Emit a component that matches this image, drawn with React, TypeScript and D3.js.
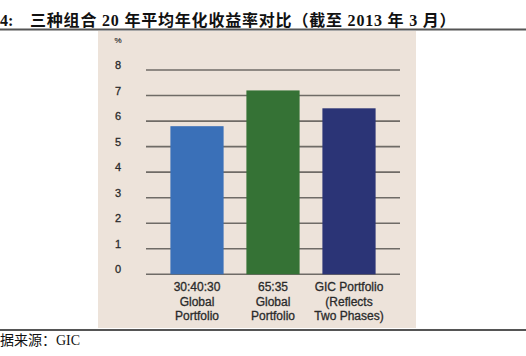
import React from "react";
import * as d3 from "d3";

const categories: string[][] = [
  ["30:40:30", "Global", "Portfolio"],
  ["65:35", "Global", "Portfolio"],
  ["GIC Portfolio", "(Reflects", "Two Phases)"],
];
const values: number[] = [5.8, 7.2, 6.5];
const barColors: string[] = ["#3a70b8", "#357235", "#2b3476"];
const yTicks: number[] = [0, 1, 2, 3, 4, 5, 6, 7, 8];
const titleNum = "4:";
const title = "三种组合 20 年平均年化收益率对比（截至 2013 年 3 月）";
const source = "据来源：GIC";

export default function App() {
  const W = 526, H = 356;
  const y = d3.scaleLinear().domain([0, 8]).range([274.3, 70]);
  const x = d3
    .scaleBand<number>()
    .domain(categories.map((_, i) => i))
    .range([159, 387])
    .paddingInner(0.3)
    .paddingOuter(0.15);
  const gridX0 = 146, gridX1 = 400;
  const sans = "'Liberation Sans', Arial, sans-serif";
  const serif = "'Liberation Serif', 'Times New Roman', 'Noto Sans CJK SC', serif";
  return (
    <svg width={W} height={H} style={{ position: "absolute", left: 0, top: 0, background: "#fff" }}>
      <text x={0} y={26} fontFamily={serif} fontWeight="bold" fontSize={16} fill="#111">
        {titleNum}
      </text>
      <text x={30} y={26} fontFamily={serif} fontWeight="bold" fontSize={16} fill="#111" letterSpacing={0.8}>
        {title}
      </text>
      <line x1={0} x2={W} y1={29.5} y2={29.5} stroke="#555" strokeWidth={2} />
      <rect x={98} y={31} width={318} height={297} fill="#ede3da" />
      {yTicks.map((t) => (
        <g key={t}>
          <line x1={gridX0} x2={gridX1} y1={y(t)} y2={y(t)} stroke="#6f6b66" strokeWidth={1.6} />
          <text x={118} y={y(t) - 1} textAnchor="middle" fontFamily={sans} fontSize={11} fill="#2a2a2a" stroke="#2a2a2a" strokeWidth={0.3}>
            {t}
          </text>
        </g>
      ))}
      <text x={118} y={43} textAnchor="middle" fontFamily={sans} fontSize={8} fill="#333" stroke="#333" strokeWidth={0.2}>%</text>
      {values.map((v, i) => (
        <rect key={i} x={x(i)} y={y(v)} width={x.bandwidth()} height={y(0) - y(v)} fill={barColors[i]} />
      ))}
      {categories.map((lines, i) => (
        <text key={i} textAnchor="middle" fontFamily={sans} fontSize={12} fill="#2a2a2a" stroke="#2a2a2a" strokeWidth={0.3}>
          {lines.map((l, j) => (
            <tspan key={j} x={(x(i) as number) + x.bandwidth() / 2} y={291 + j * 14.5}>
              {l}
            </tspan>
          ))}
        </text>
      ))}
      <line x1={0} x2={W} y1={330} y2={330} stroke="#555" strokeWidth={2} />
      <text x={0} y={345} fontFamily={serif} fontSize={14} fill="#111">{source}</text>
    </svg>
  );
}
